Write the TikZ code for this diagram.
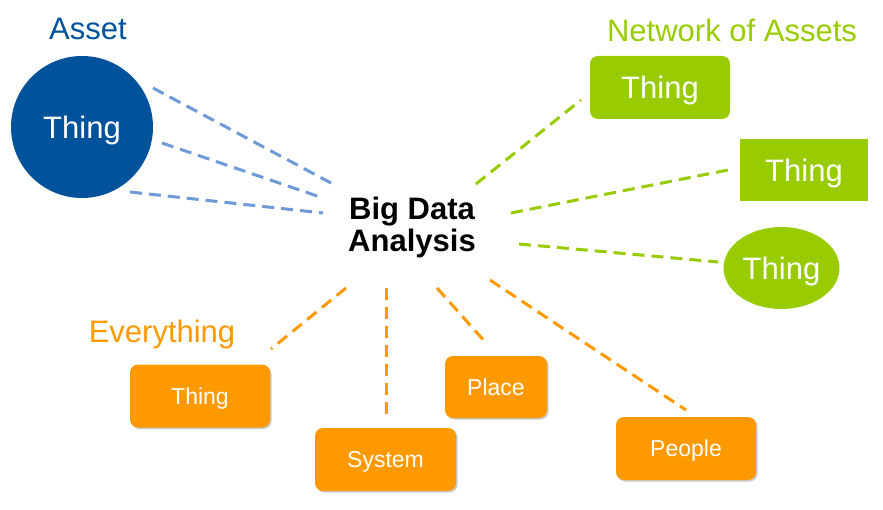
\documentclass[tikz,border=0pt]{standalone}
\usepackage{fontspec}
\setmainfont{Liberation Sans}
\usetikzlibrary{shapes.geometric,shadows}
\definecolor{assetblue}{RGB}{0,83,155}
\definecolor{lineblue}{RGB}{110,155,215}
\definecolor{netgreen}{RGB}{153,204,0}
\definecolor{everyorange}{RGB}{255,153,0}
\tikzset{
  bigtxt/.style={font=\fontsize{31}{37}\selectfont},
  smalltxt/.style={font=\fontsize{23}{28}\selectfont},
  dashline/.style={line width=3pt, dash pattern=on 12pt off 7pt},
  greenbox/.style={fill=netgreen, text=white, bigtxt, inner sep=0pt, text depth=0pt},
  orangebox/.style={fill=everyorange, text=white, smalltxt, inner sep=0pt, text depth=0pt,
    rounded corners=8pt, minimum width=140pt, minimum height=63pt,
    drop shadow={shadow xshift=1.5pt, shadow yshift=-1.5pt, opacity=0.35, fill=black!60}},
}
\begin{document}
\begin{tikzpicture}[x=1pt,y=-1pt]
\useasboundingbox (0,0) rectangle (883,510);
% labels
\node[bigtxt, text=assetblue, anchor=base] (assetlbl) at (88,40) {Asset};
\node[bigtxt, text=netgreen, anchor=base] (netlbl) at (732,42) {Network of Assets};
\node[bigtxt, text=everyorange, anchor=base] (everylbl) at (162,343) {Everything};
% center
\node[font=\fontsize{31}{32}\selectfont\bfseries, align=center] (bda) at (412,227) {Big Data\\Analysis};
% asset
\node[circle, fill=assetblue, text=white, bigtxt, text depth=0pt, minimum size=142pt, inner sep=0pt] (asset) at (82,127) {Thing};
% network
\node[greenbox, rounded corners=8pt, minimum width=140pt, minimum height=63pt] (g1) at (660,87.5) {Thing};
\node[greenbox, minimum width=128pt, minimum height=62pt] (g2) at (804,170) {Thing};
\node[greenbox, ellipse, minimum width=116pt, minimum height=82pt] (g3) at (781.5,268) {Thing};
% everything
\node[orangebox] (o1) at (200,396) {Thing};
\node[orangebox, minimum width=141pt] (o2) at (385.5,459.5) {System};
\node[orangebox, minimum width=102pt, minimum height=62pt] (o3) at (496,387) {Place};
\node[orangebox] (o4) at (686,448.5) {People};
% connector endpoints
\coordinate (b1s) at (153,88);  \coordinate (b1e) at (331,183);
\coordinate (b2s) at (162,143); \coordinate (b2e) at (323,198);
\coordinate (b3s) at (130,192); \coordinate (b3e) at (323,213);
\coordinate (g1s) at (476,184); \coordinate (g1e) at (581,100);
\coordinate (g2s) at (511,213); \coordinate (g2e) at (728,170);
\coordinate (g3s) at (519,244); \coordinate (g3e) at (718,262);
\coordinate (o1s) at (346,288); \coordinate (o1e) at (271,349);
\coordinate (o2s) at (386,288); \coordinate (o2e) at (386,418);
\coordinate (o3s) at (437,288); \coordinate (o3e) at (487,344);
\coordinate (o4s) at (490,280); \coordinate (o4e) at (686,410);
\draw[dashline, lineblue] (b1s) -- (b1e);
\draw[dashline, lineblue] (b2s) -- (b2e);
\draw[dashline, lineblue] (b3s) -- (b3e);
\draw[dashline, netgreen] (g1s) -- (g1e);
\draw[dashline, netgreen] (g2s) -- (g2e);
\draw[dashline, netgreen] (g3s) -- (g3e);
\draw[dashline, everyorange] (o1s) -- (o1e);
\draw[dashline, everyorange] (o2s) -- (o2e);
\draw[dashline, everyorange] (o3s) -- (o3e);
\draw[dashline, everyorange] (o4s) -- (o4e);
\end{tikzpicture}
\end{document}
